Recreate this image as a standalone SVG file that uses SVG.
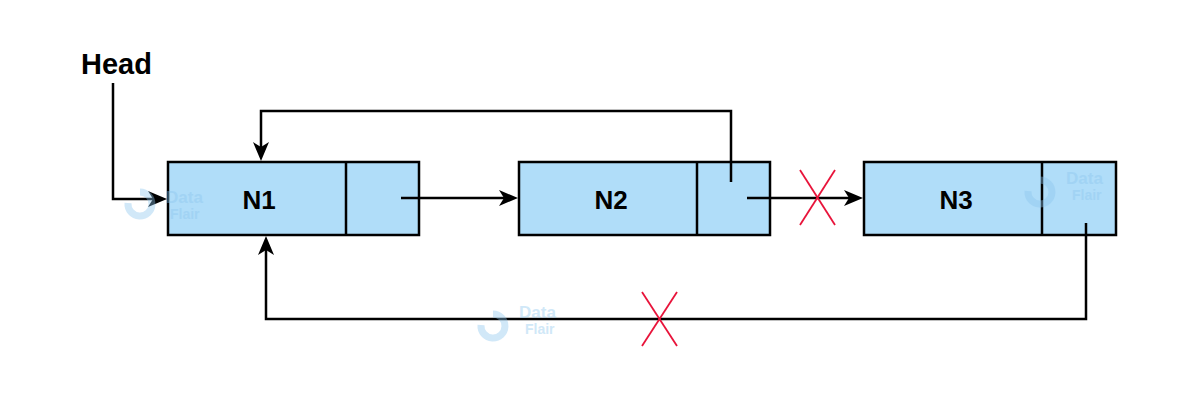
<svg xmlns="http://www.w3.org/2000/svg" xmlns:xlink="http://www.w3.org/1999/xlink" width="1200" height="400" viewBox="0 0 1200 400">
<style>
.box{fill:#B0DDF9;stroke:#000;stroke-width:2.5}
.div{stroke:#000;stroke-width:2.5}
.lbl{font-family:"Liberation Sans",Arial,sans-serif;font-weight:bold;font-size:26px;fill:#000;text-anchor:middle}
.conn{fill:none;stroke:#000;stroke-width:2.5}
.x{stroke:#E8133A;stroke-width:1.8}
.wm{font-family:"Liberation Sans",Arial,sans-serif;font-weight:bold;fill:#8CC6EE;opacity:0.4}
.wmr{fill:none;stroke:#8CC6EE;stroke-width:7;opacity:0.4}
</style>
<defs>
<path id="ah" d="M0,0 L-19,-8 L-14,0 L-19,8 Z" fill="#000"/>
</defs>
<rect width="1200" height="400" fill="#fff"/>
<g id="head">
<text x="81" y="74" font-family="Liberation Sans,Arial,sans-serif" font-weight="bold" font-size="29" fill="#000">Head</text>
</g>
<g id="n1">
<rect class="box" x="168" y="162" width="251" height="73"/>
<line class="div" x1="346" y1="162" x2="346" y2="235"/>
<text class="lbl" x="259" y="209">N1</text>
</g>
<g id="n2">
<rect class="box" x="519" y="162" width="251" height="73"/>
<line class="div" x1="697" y1="162" x2="697" y2="235"/>
<text class="lbl" x="611" y="209">N2</text>
</g>
<g id="n3">
<rect class="box" x="864" y="162" width="252" height="73"/>
<line class="div" x1="1042" y1="162" x2="1042" y2="235"/>
<text class="lbl" x="956" y="209">N3</text>
</g>
<g id="connectors">
<path class="conn" d="M113,83 V199 H155"/>
<use href="#ah" xlink:href="#ah" transform="translate(167,199)"/>
<path class="conn" d="M731,182 V111 H261 V150"/>
<use href="#ah" xlink:href="#ah" transform="translate(261,161) rotate(90)"/>
<path class="conn" d="M401,198 H506"/>
<use href="#ah" xlink:href="#ah" transform="translate(518,198)"/>
<path class="conn" d="M747,198 H851"/>
<use href="#ah" xlink:href="#ah" transform="translate(863,198)"/>
<path class="conn" d="M1086,223 V319 H266 V248"/>
<use href="#ah" xlink:href="#ah" transform="translate(266,236) rotate(-90)"/>
<line class="x" x1="800" y1="170" x2="835" y2="225"/>
<line class="x" x1="835" y1="170" x2="800" y2="225"/>
<line class="x" x1="642" y1="292" x2="677" y2="346"/>
<line class="x" x1="677" y1="292" x2="642" y2="346"/>
</g>
<g id="watermarks">
<path class="wmr" d="M128,203 A12,12 0 1 0 140,192"/>
<text class="wm" x="166" y="203" font-size="17">Data</text>
<text class="wm" x="170" y="219" font-size="14">Flair</text>
<path class="wmr" d="M1028,191 A12,12 0 1 0 1040,180"/>
<text class="wm" x="1066" y="184" font-size="17">Data</text>
<text class="wm" x="1072" y="200" font-size="14">Flair</text>
<path class="wmr" d="M481,325 A12,12 0 1 0 493,314"/>
<text class="wm" x="519" y="318" font-size="17">Data</text>
<text class="wm" x="525" y="334" font-size="14">Flair</text>
</g>
</svg>
